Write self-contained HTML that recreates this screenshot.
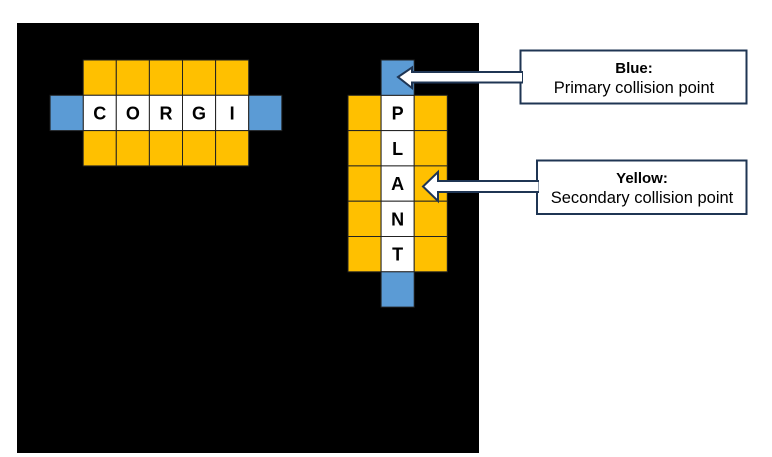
<!DOCTYPE html>
<html><head><meta charset="utf-8"><style>
html,body{margin:0;padding:0;background:#fff;width:772px;height:457px;overflow:hidden}
svg{display:block;font-family:"Liberation Sans",sans-serif}
</style></head><body>
<svg width="772" height="457" viewBox="0 0 772 457">
<rect x="17" y="23" width="462" height="430" fill="#000"/>
<g id="cells" stroke="#222" stroke-width="1"></g>
<g>
<rect x="520.5" y="50.5" width="226" height="53" fill="#fff" stroke="#1f3553" stroke-width="2"/>
<polygon points="398,77 412,67.5 412,72 522,72 522,82.5 412,82.5 412,88" fill="#fff" stroke="#1f3553" stroke-width="2" stroke-linejoin="miter"/>
<line x1="520.5" y1="73" x2="520.5" y2="81.5" stroke="#fff" stroke-width="3"/>
<text x="634" y="73" text-anchor="middle" font-size="15" font-weight="bold" fill="#000">Blue:</text>
<text x="634" y="93" text-anchor="middle" font-size="16.5" fill="#000">Primary collision point</text>
</g>
<g>
<rect x="537" y="160.5" width="209.5" height="53.5" fill="#fff" stroke="#1f3553" stroke-width="2"/>
<polygon points="423,186.5 438,172 438,181 538,181 538,192 438,192 438,201" fill="#fff" stroke="#1f3553" stroke-width="2"/>
<line x1="537" y1="182" x2="537" y2="191" stroke="#fff" stroke-width="3"/>
<text x="642" y="183" text-anchor="middle" font-size="15" font-weight="bold" fill="#000">Yellow:</text>
<text x="642" y="203" text-anchor="middle" font-size="16.5" fill="#000">Secondary collision point</text>
</g>
</svg>
<script>
const corgiLetters=['C','O','R','G','I'];
const plantLetters=['P','L','A','N','T'];
const X0=17,CW=33.1,Y0=24.7,RH=35.3;
const g=document.getElementById('cells');
const NS='http://www.w3.org/2000/svg';
function cell(c,r,fill,letter,name){
  const x=X0+c*CW,y=Y0+r*RH;
  const rc=document.createElementNS(NS,'rect');
  rc.setAttribute('x',x);rc.setAttribute('y',y);rc.setAttribute('width',CW);rc.setAttribute('height',RH);
  rc.setAttribute('fill',fill);
  
  
  g.appendChild(rc);
  if(letter){
    const t=document.createElementNS(NS,'text');
    t.setAttribute('x',x+CW/2);t.setAttribute('y',y+RH/2+6.5);
    t.setAttribute('text-anchor','middle');t.setAttribute('font-size','18');t.setAttribute('font-weight','bold');
    t.setAttribute('font-family','"Liberation Sans",sans-serif');t.setAttribute('stroke','none');
    t.textContent=letter;
    
    
    g.appendChild(t);
  }
}
const Y='#ffc000',B='#5b9bd5',W='#fff';
corgiLetters.forEach((L,i)=>{cell(2+i,1,Y,null,'corgi-yellow-top');cell(2+i,2,W,L,'corgi-tile');cell(2+i,3,Y,null,'corgi-yellow-bottom');});
cell(1,2,B,null,'corgi-blue-left');cell(2+corgiLetters.length,2,B,null,'corgi-blue-right');
plantLetters.forEach((L,i)=>{cell(10,2+i,Y,null,'plant-yellow-left');cell(11,2+i,W,L,'plant-tile');cell(12,2+i,Y,null,'plant-yellow-right');});
cell(11,1,B,null,'plant-blue-top');cell(11,2+plantLetters.length,B,null,'plant-blue-bottom');
</script>
</body></html>
